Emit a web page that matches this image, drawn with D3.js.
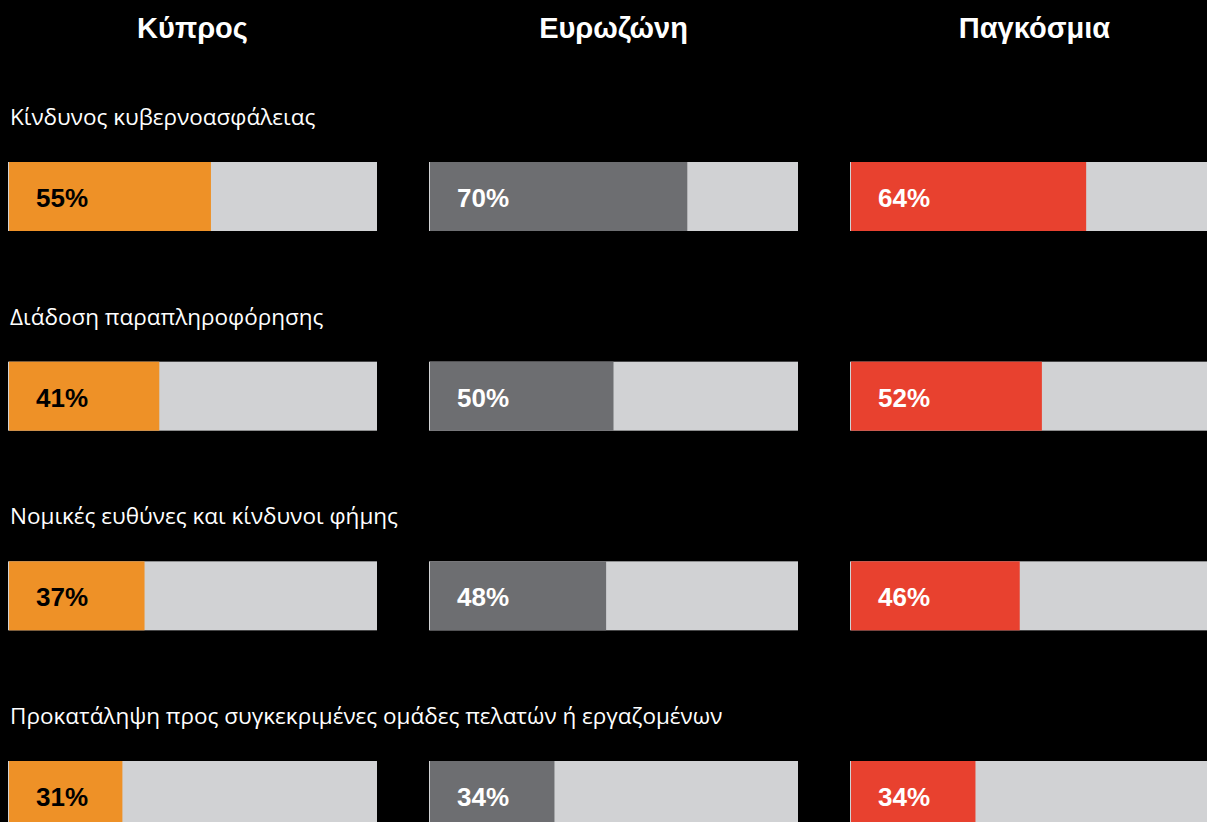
<!DOCTYPE html>
<html>
<head>
<meta charset="utf-8">
<script src="https://cdn.jsdelivr.net/npm/d3@7"></script>
<style>
  html, body { margin: 0; padding: 0; background: #000; }
  svg { display: block; }
</style>
</head>
<body>
<svg id="chart" width="1207" height="822"></svg>
<script>
// Regions compared
const regions = ["Κύπρος", "Ευρωζώνη", "Παγκόσμια"];
// Risk categories
const risks = [
  "Κίνδυνος κυβερνοασφάλειας",
  "Διάδοση παραπληροφόρησης",
  "Νομικές ευθύνες και κίνδυνοι φήμης",
  "Προκατάληψη προς συγκεκριμένες ομάδες πελατών ή εργαζομένων"
];
// Share of respondents (%) per region, in risk order
const cyprusValues = [55, 41, 37, 31];
const eurozoneValues = [70, 50, 48, 34];
const globalValues = [64, 52, 46, 34];

const seriesValues = [cyprusValues, eurozoneValues, globalValues];
const fillColors = ["#EE9127", "#6D6E71", "#E8412F"];
const labelColors = ["#000000", "#FFFFFF", "#FFFFFF"];
const trackColor = "#D1D2D4";

const svg = d3.select("#chart");

const colWidth = 369;
const barHeight = 69;

const colX = d3.scalePoint().domain(regions).range([8, 850]);
const rowY = d3.scalePoint().domain(risks).range([162, 761]);
const xVal = d3.scaleLinear().domain([0, 100]).range([0, colWidth]);

// Column headers
svg.selectAll("text.header")
  .data(regions)
  .join("text")
  .attr("class", "header")
  .attr("x", d => colX(d) + colWidth / 2)
  .attr("y", 38)
  .attr("text-anchor", "middle")
  .attr("fill", "#fff")
  .style("font-family", "'Liberation Sans', Arial, sans-serif")
  .style("font-weight", "bold")
  .style("font-size", "29px")
  .text(d => d);

// Risk labels
svg.selectAll("text.risk")
  .data(risks)
  .join("text")
  .attr("class", "risk")
  .attr("x", 10)
  .attr("y", d => rowY(d) - 37)
  .attr("fill", "#fff")
  .style("font-family", "'Open Sans', 'Noto Sans', sans-serif")
  .style("font-size", "22.5px")
  .text(d => d);

const cells = [];
regions.forEach((r, ci) => {
  risks.forEach((k, ri) => {
    cells.push({ region: r, risk: k, ci, value: seriesValues[ci][ri] });
  });
});

const g = svg.selectAll("g.cell")
  .data(cells)
  .join("g")
  .attr("class", "cell")
  .attr("transform", d => `translate(${colX(d.region)},${rowY(d.risk)})`);

// Background track
g.append("rect")
  .attr("x", 0).attr("y", 0)
  .attr("width", colWidth).attr("height", barHeight)
  .attr("fill", trackColor);

// Value bar
g.append("rect")
  .attr("x", 1).attr("y", 0)
  .attr("width", d => xVal(d.value) - 1).attr("height", barHeight)
  .attr("fill", d => fillColors[d.ci]);

// Value label
g.append("text")
  .attr("x", 28)
  .attr("y", 45)
  .attr("fill", d => labelColors[d.ci])
  .style("font-family", "'Liberation Sans', Arial, sans-serif")
  .style("font-weight", "bold")
  .style("font-size", "26px")
  .text(d => d.value + "%");
</script>
</body>
</html>
